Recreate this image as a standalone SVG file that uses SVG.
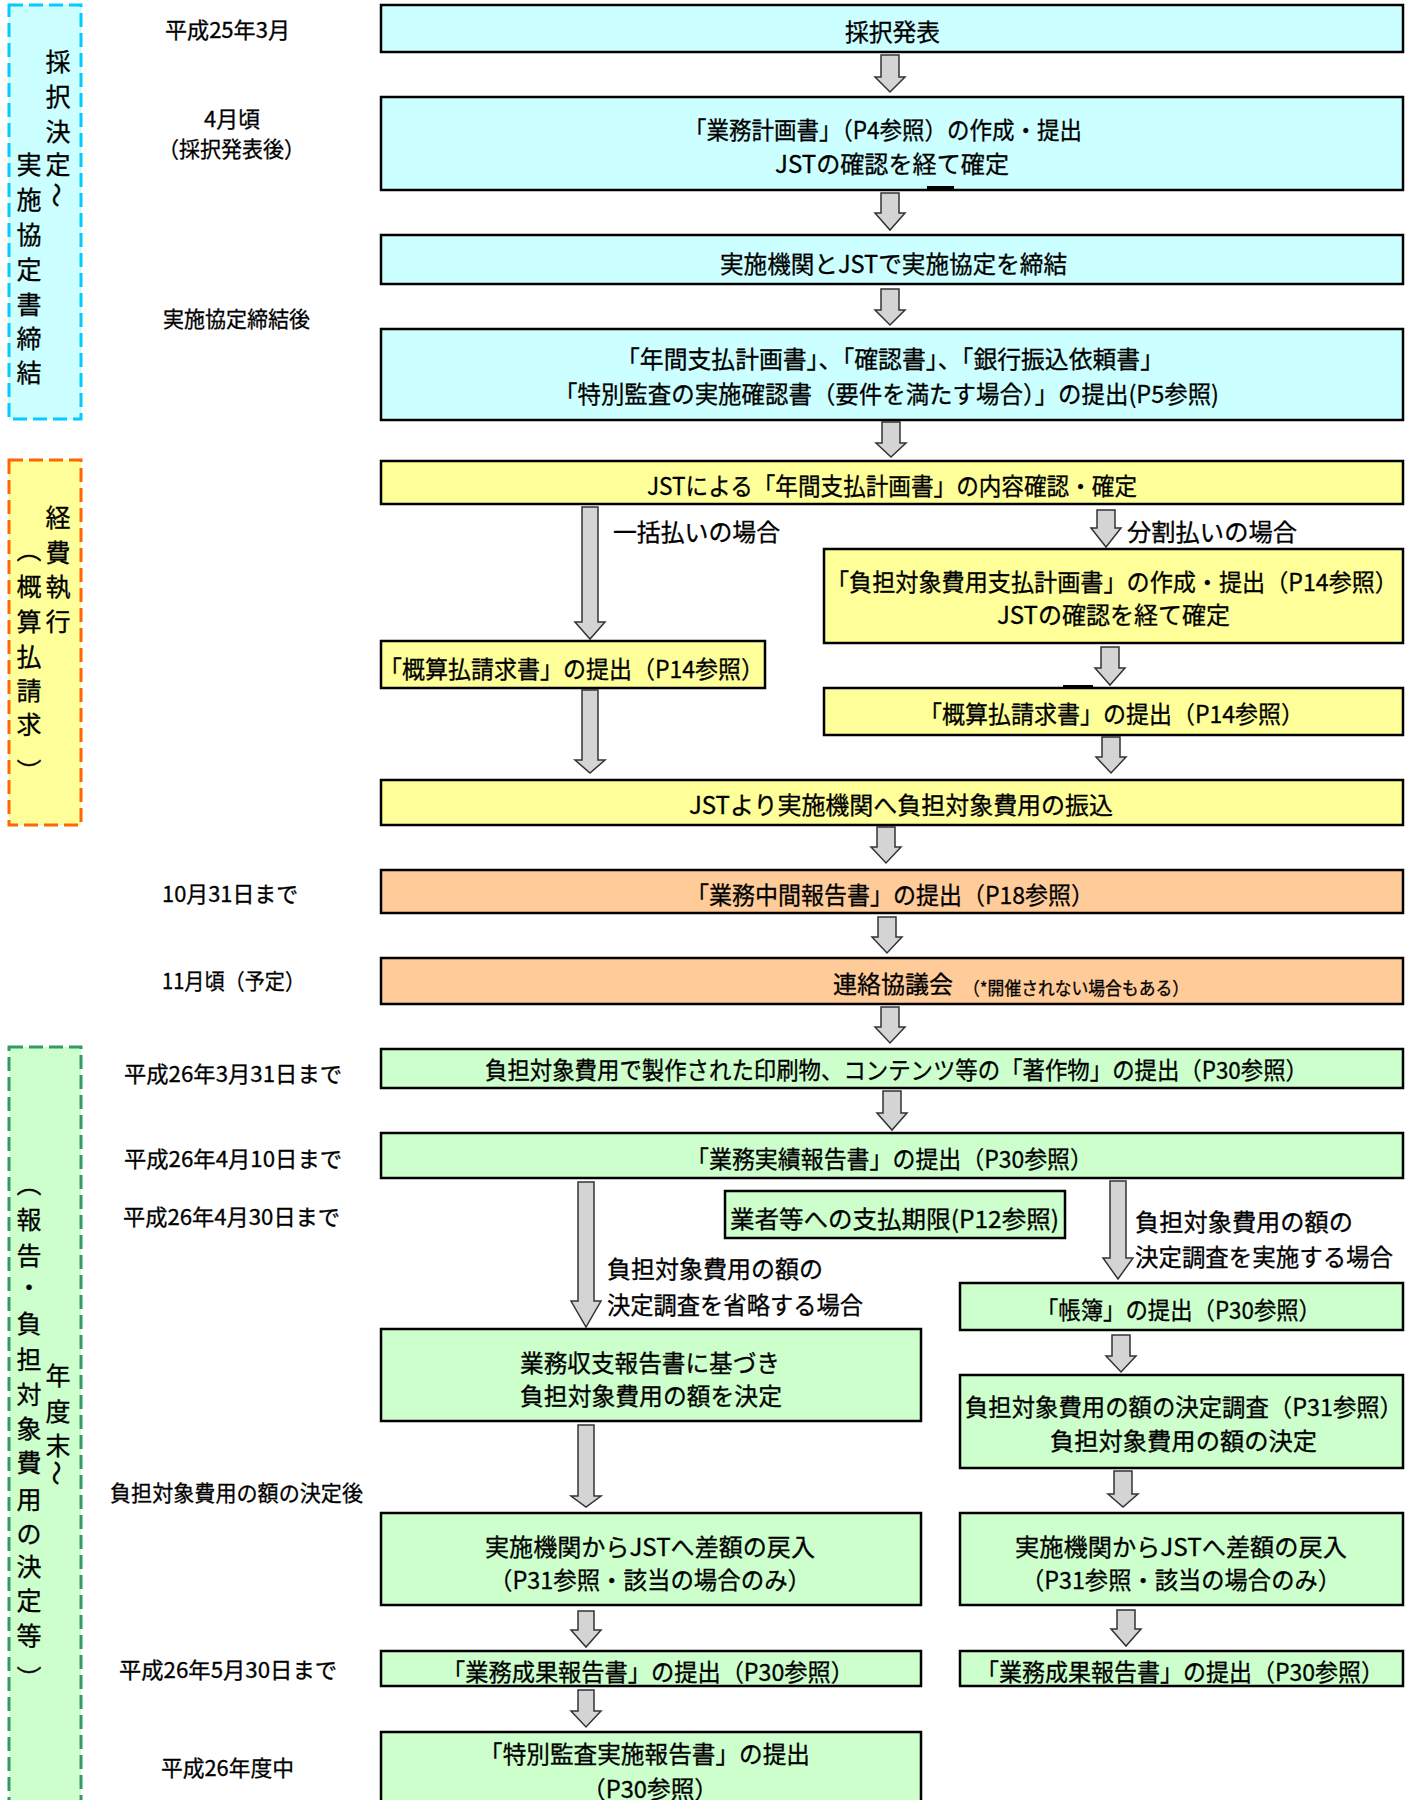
<svg xmlns="http://www.w3.org/2000/svg" width="1419" height="1800" viewBox="0 0 1419 1800">
<style>
text{font-family:"Noto Sans CJK JP","Noto Sans CJK SC",sans-serif;fill:#000;dominant-baseline:central;stroke:#000;stroke-width:0.3}
.b{font-size:24px}
.d{font-size:22px}
.v{font-size:25px;text-anchor:middle}
.s{font-size:18px}
.box{stroke:#000;stroke-width:2.5}
.cy{fill:#ccffff}.ye{fill:#ffff99}.or{fill:#ffcc99}.gr{fill:#ccffcc}
.arr{fill:#d4d4d4;stroke:#333;stroke-width:1.5;stroke-linejoin:miter}
</style>

<!-- Phase bands -->
<g id="band1">
<rect x="9" y="5" width="72" height="414" fill="#ccffff" stroke="#00ccff" stroke-width="3" stroke-dasharray="14,6"/>
<text class="v" x="58" y="60">採</text><text class="v" x="58" y="95">択</text><text class="v" x="58" y="130">決</text><text class="v" x="58" y="163">定</text>
<text class="v" x="0" y="0" font-size="20" transform="translate(58,195) rotate(90)">〜</text>
<text class="v" x="29" y="163">実</text><text class="v" x="29" y="198">施</text><text class="v" x="29" y="233">協</text><text class="v" x="29" y="268">定</text><text class="v" x="29" y="303">書</text><text class="v" x="29" y="337">締</text><text class="v" x="29" y="371">結</text>
</g>
<g id="band2">
<rect x="9" y="460" width="72" height="365" fill="#ffff99" stroke="#ff6600" stroke-width="3" stroke-dasharray="14,6"/>
<text class="v" x="58" y="516">経</text><text class="v" x="58" y="551">費</text><text class="v" x="58" y="585">執</text><text class="v" x="58" y="620">行</text>
<text class="v" x="29" y="548">︵</text><text class="v" x="29" y="585">概</text><text class="v" x="29" y="620">算</text><text class="v" x="29" y="655">払</text><text class="v" x="29" y="689">請</text><text class="v" x="29" y="723">求</text><text class="v" x="29" y="770">︶</text>
</g>
<g id="band3">
<rect x="9" y="1047" width="72" height="770" fill="#ccffcc" stroke="#339966" stroke-width="3" stroke-dasharray="14,6"/>
<text class="v" x="29" y="1182">︵</text><text class="v" x="29" y="1218">報</text><text class="v" x="29" y="1254">告</text><text class="v" x="29" y="1286">・</text><text class="v" x="29" y="1322">負</text><text class="v" x="29" y="1358">担</text><text class="v" x="29" y="1393">対</text><text class="v" x="29" y="1427">象</text><text class="v" x="29" y="1461">費</text><text class="v" x="29" y="1498">用</text><text class="v" x="29" y="1532">の</text><text class="v" x="29" y="1565">決</text><text class="v" x="29" y="1599">定</text><text class="v" x="29" y="1634">等</text><text class="v" x="29" y="1677">︶</text>
<text class="v" x="58" y="1374">年</text><text class="v" x="58" y="1410">度</text><text class="v" x="58" y="1444">末</text>
<text class="v" x="0" y="0" font-size="20" transform="translate(58,1473) rotate(90)">〜</text>
</g>

<!-- Date labels -->
<g id="dates">
<text class="d" x="165" y="28" textLength="125" lengthAdjust="spacingAndGlyphs">平成25年3月</text>
<text class="d" x="204" y="117" textLength="56" lengthAdjust="spacingAndGlyphs">4月頃</text>
<text class="d" x="158" y="147" textLength="147" lengthAdjust="spacingAndGlyphs">（採択発表後）</text>
<text class="d" x="163" y="317" textLength="147" lengthAdjust="spacingAndGlyphs">実施協定締結後</text>
<text class="d" x="162" y="892" textLength="136" lengthAdjust="spacingAndGlyphs">10月31日まで</text>
<text class="d" x="162" y="979" textLength="143" lengthAdjust="spacingAndGlyphs">11月頃（予定）</text>
<text class="d" x="124" y="1072" textLength="218" lengthAdjust="spacingAndGlyphs">平成26年3月31日まで</text>
<text class="d" x="124" y="1157" textLength="218" lengthAdjust="spacingAndGlyphs">平成26年4月10日まで</text>
<text class="d" x="123" y="1215" textLength="217" lengthAdjust="spacingAndGlyphs">平成26年4月30日まで</text>
<text class="d" x="110" y="1491" textLength="253" lengthAdjust="spacingAndGlyphs">負担対象費用の額の決定後</text>
<text class="d" x="119" y="1668" textLength="218" lengthAdjust="spacingAndGlyphs">平成26年5月30日まで</text>
<text class="d" x="161" y="1766" textLength="133" lengthAdjust="spacingAndGlyphs">平成26年度中</text>
</g>

<!-- Connectors -->
<g id="connectors">
<path class="arr" d="M881,55H899V77H905L890,92L875,77H881Z"/>
<path class="arr" d="M881,193H899V213H905L890,230L875,213H881Z"/>
<path class="arr" d="M881,289H899V310H905L890,325L875,310H881Z"/>
<path class="arr" d="M882,422H900V443H906L891,457L876,443H882Z"/>
<path class="arr" d="M582,507H598V622H605L590,639L575,622H582Z"/>
<path class="arr" d="M1097,510H1115V528H1121L1106,547L1091,528H1097Z"/>
<path class="arr" d="M1101,647H1119V668H1125L1110,685L1095,668H1101Z"/>
<path class="arr" d="M1102,737H1120V757H1126L1111,773L1096,757H1102Z"/>
<path class="arr" d="M582,690H598V760H605L590,773L575,760H582Z"/>
<path class="arr" d="M877,827H895V847H901L886,863L871,847H877Z"/>
<path class="arr" d="M878,917H896V937H902L887,953L872,937H878Z"/>
<path class="arr" d="M881,1007H899V1027H905L890,1043L875,1027H881Z"/>
<path class="arr" d="M883,1091H901V1113H907L892,1130L877,1113H883Z"/>
<path class="arr" d="M578,1182H594V1301H601L586,1327L571,1301H578Z"/>
<path class="arr" d="M1110,1181H1126V1258H1133L1118,1279L1103,1258H1110Z"/>
<path class="arr" d="M1112,1335H1130V1356H1136L1121,1372L1106,1356H1112Z"/>
<path class="arr" d="M578,1425H594V1496H601L586,1507L571,1496H578Z"/>
<path class="arr" d="M1114,1471H1132V1494H1138L1123,1507L1108,1494H1114Z"/>
<path class="arr" d="M578,1611H594V1630H601L586,1647L571,1630H578Z"/>
<path class="arr" d="M1117,1610H1135V1629H1141L1126,1646L1111,1629H1117Z"/>
<path class="arr" d="M578,1690H594V1711H601L586,1727L571,1711H578Z"/>
</g>

<!-- Nodes -->
<g id="n1"><rect class="box cy" x="381" y="5" width="1022" height="47"/>
<text class="b" x="845" y="30" textLength="95" lengthAdjust="spacingAndGlyphs">採択発表</text></g>
<g id="n2"><rect class="box cy" x="381" y="97" width="1022" height="93"/>
<rect x="927" y="186" width="27" height="4" fill="#000"/>
<text class="b" x="684" y="128" textLength="398" lengthAdjust="spacingAndGlyphs">「業務計画書」（P4参照）の作成・提出</text>
<text class="b" x="775" y="162" textLength="234" lengthAdjust="spacingAndGlyphs">JSTの確認を経て確定</text></g>
<g id="n3"><rect class="box cy" x="381" y="235" width="1022" height="49"/>
<text class="b" x="720" y="262" textLength="347" lengthAdjust="spacingAndGlyphs">実施機関とJSTで実施協定を締結</text></g>
<g id="n4"><rect class="box cy" x="381" y="329" width="1022" height="91"/>
<text class="b" x="616" y="357" textLength="548" lengthAdjust="spacingAndGlyphs">「年間支払計画書」、「確認書」、「銀行振込依頼書」</text>
<text class="b" x="554" y="392" textLength="665" lengthAdjust="spacingAndGlyphs">「特別監査の実施確認書（要件を満たす場合）」の提出(P5参照)</text></g>

<g id="n5"><rect class="box ye" x="381" y="461" width="1022" height="43"/>
<text class="b" x="647" y="484" textLength="490" lengthAdjust="spacingAndGlyphs">JSTによる「年間支払計画書」の内容確認・確定</text></g>
<g id="lbl1"><text class="b" x="613" y="530" textLength="167" lengthAdjust="spacingAndGlyphs">一括払いの場合</text></g>
<g id="lbl2"><text class="b" x="1127" y="530" textLength="170" lengthAdjust="spacingAndGlyphs">分割払いの場合</text></g>
<g id="n6"><rect class="box ye" x="381" y="641" width="384" height="47"/>
<text class="b" x="379" y="667" textLength="385" lengthAdjust="spacingAndGlyphs">「概算払請求書」の提出（P14参照）</text></g>
<g id="n7"><rect class="box ye" x="824" y="549" width="579" height="94"/>
<text class="b" x="826" y="580" textLength="572" lengthAdjust="spacingAndGlyphs">「負担対象費用支払計画書」の作成・提出（P14参照）</text>
<text class="b" x="997" y="613" textLength="233" lengthAdjust="spacingAndGlyphs">JSTの確認を経て確定</text></g>
<g id="n8"><rect class="box ye" x="824" y="688" width="579" height="47"/>
<rect x="1063" y="685" width="30" height="4" fill="#000"/>
<text class="b" x="919" y="712" textLength="385" lengthAdjust="spacingAndGlyphs">「概算払請求書」の提出（P14参照）</text></g>
<g id="n9"><rect class="box ye" x="381" y="780" width="1022" height="45"/>
<text class="b" x="689" y="803" textLength="424" lengthAdjust="spacingAndGlyphs">JSTより実施機関へ負担対象費用の振込</text></g>

<g id="n10"><rect class="box or" x="381" y="870" width="1022" height="43"/>
<text class="b" x="686" y="893" textLength="408" lengthAdjust="spacingAndGlyphs">「業務中間報告書」の提出（P18参照）</text></g>
<g id="n11"><rect class="box or" x="381" y="958" width="1022" height="46"/>
<text class="b" x="833" y="982" font-size="25" textLength="120" lengthAdjust="spacingAndGlyphs">連絡協議会</text>
<text class="s" x="963" y="987" textLength="226" lengthAdjust="spacingAndGlyphs">（*開催されない場合もある）</text></g>

<g id="n12"><rect class="box gr" x="381" y="1049" width="1022" height="39"/>
<text class="b" x="485" y="1068" textLength="823" lengthAdjust="spacingAndGlyphs">負担対象費用で製作された印刷物、コンテンツ等の「著作物」の提出（P30参照）</text></g>
<g id="n13"><rect class="box gr" x="381" y="1133" width="1022" height="45"/>
<text class="b" x="686" y="1157" textLength="407" lengthAdjust="spacingAndGlyphs">「業務実績報告書」の提出（P30参照）</text></g>
<g id="n14"><rect class="box gr" x="725" y="1191" width="340" height="47" stroke-width="3"/>
<text class="b" x="730" y="1217" textLength="329" lengthAdjust="spacingAndGlyphs">業者等への支払期限(P12参照)</text></g>
<g id="lbl3"><text class="b" x="607" y="1267" textLength="216" lengthAdjust="spacingAndGlyphs">負担対象費用の額の</text>
<text class="b" x="607" y="1303" textLength="256" lengthAdjust="spacingAndGlyphs">決定調査を省略する場合</text></g>
<g id="lbl4"><text class="b" x="1135" y="1220" textLength="218" lengthAdjust="spacingAndGlyphs">負担対象費用の額の</text>
<text class="b" x="1135" y="1255" textLength="258" lengthAdjust="spacingAndGlyphs">決定調査を実施する場合</text></g>
<g id="n15"><rect class="box gr" x="381" y="1329" width="540" height="92"/>
<text class="b" x="520" y="1361" textLength="260" lengthAdjust="spacingAndGlyphs">業務収支報告書に基づき</text>
<text class="b" x="520" y="1394" textLength="262" lengthAdjust="spacingAndGlyphs">負担対象費用の額を決定</text></g>
<g id="n16"><rect class="box gr" x="960" y="1283" width="443" height="47"/>
<text class="b" x="1036" y="1308" textLength="285" lengthAdjust="spacingAndGlyphs">「帳簿」の提出（P30参照）</text></g>
<g id="n17"><rect class="box gr" x="960" y="1375" width="443" height="93"/>
<text class="b" x="965" y="1405" textLength="438" lengthAdjust="spacingAndGlyphs">負担対象費用の額の決定調査（P31参照）</text>
<text class="b" x="1050" y="1439" textLength="267" lengthAdjust="spacingAndGlyphs">負担対象費用の額の決定</text></g>
<g id="n18"><rect class="box gr" x="381" y="1513" width="540" height="92"/>
<text class="b" x="485" y="1545" textLength="330" lengthAdjust="spacingAndGlyphs">実施機関からJSTへ差額の戻入</text>
<text class="b" x="489" y="1578" textLength="322" lengthAdjust="spacingAndGlyphs">（P31参照・該当の場合のみ）</text></g>
<g id="n19"><rect class="box gr" x="960" y="1513" width="443" height="92"/>
<text class="b" x="1015" y="1545" textLength="332" lengthAdjust="spacingAndGlyphs">実施機関からJSTへ差額の戻入</text>
<text class="b" x="1021" y="1578" textLength="320" lengthAdjust="spacingAndGlyphs">（P31参照・該当の場合のみ）</text></g>
<g id="n20"><rect class="box gr" x="381" y="1651" width="540" height="35"/>
<text class="b" x="442" y="1670" textLength="412" lengthAdjust="spacingAndGlyphs">「業務成果報告書」の提出（P30参照）</text></g>
<g id="n21"><rect class="box gr" x="960" y="1651" width="443" height="35"/>
<text class="b" x="976" y="1670" textLength="408" lengthAdjust="spacingAndGlyphs">「業務成果報告書」の提出（P30参照）</text></g>
<g id="n22"><rect class="box gr" x="381" y="1732" width="540" height="90"/>
<text class="b" x="479" y="1752" textLength="331" lengthAdjust="spacingAndGlyphs">「特別監査実施報告書」の提出</text>
<text class="b" x="582" y="1787" textLength="136" lengthAdjust="spacingAndGlyphs">（P30参照）</text></g>
</svg>
